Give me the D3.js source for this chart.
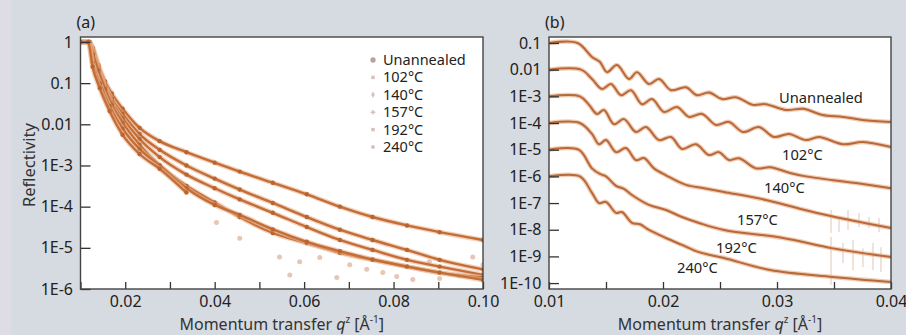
<!DOCTYPE html>
<html>
<head>
<meta charset="utf-8">
<script src="https://cdn.jsdelivr.net/npm/d3@7"></script>
<style>
body { margin: 0; background: #d6dae1; }
svg { display: block; font-family: "Noto Sans", "Open Sans", sans-serif; }
</style>
</head>
<body>
<script>
// ---- panel (a): reflectivity vs q, six samples ----
var seriesNames = ["Unannealed", "102°C", "140°C", "157°C", "192°C", "240°C"];

var aUnannealed = [[0.0100,1.0],[0.0120,1.0],[0.0128,0.71],[0.0140,0.28],[0.0155,0.11],[0.0170,0.056],[0.0194,0.024],[0.0232,0.0082],[0.0277,0.0039],[0.0337,0.0021],[0.0400,0.00117],[0.0456,7.1e-4],[0.0530,3.8e-4],[0.0606,2.0e-4],[0.0680,1.0e-4],[0.0753,5.6e-5],[0.0830,3.5e-5],[0.0903,2.4e-5],[0.1000,1.55e-5]];
var a102 = [[0.0100,1.0],[0.0120,1.0],[0.0128,0.63],[0.0140,0.25],[0.0155,0.089],[0.0170,0.042],[0.0194,0.018],[0.0232,0.0058],[0.0277,0.0024],[0.0337,0.001],[0.0400,4.8e-4],[0.0456,2.6e-4],[0.0530,1.23e-4],[0.0606,5.6e-5],[0.0680,2.75e-5],[0.0753,1.55e-5],[0.0830,8.9e-6],[0.0903,5.1e-6],[0.1000,3.0e-6]];
var a140 = [[0.0100,1.0],[0.0120,1.0],[0.0128,0.56],[0.0140,0.22],[0.0155,0.079],[0.0170,0.035],[0.0194,0.014],[0.0232,0.0044],[0.0277,0.0016],[0.0337,6.0e-4],[0.0400,2.8e-4],[0.0456,1.5e-4],[0.0530,7.1e-5],[0.0606,3.2e-5],[0.0680,1.55e-5],[0.0753,8.9e-6],[0.0830,5.1e-6],[0.0903,3.5e-6],[0.1000,2.2e-6]];
var a157 = [[0.0100,1.0],[0.0120,1.0],[0.0128,0.5],[0.0140,0.2],[0.0155,0.071],[0.0170,0.03],[0.0194,0.011],[0.0232,0.0032],[0.0277,0.001],[0.0337,3.2e-4],[0.0400,1.26e-4],[0.0456,5.6e-5],[0.0530,2.3e-5],[0.0606,1.3e-5],[0.0680,7.6e-6],[0.0753,5.1e-6],[0.0830,3.5e-6],[0.0903,2.5e-6],[0.1000,1.9e-6]];
var a192 = [[0.0100,1.0],[0.0118,1.0],[0.0127,0.32],[0.0143,0.1],[0.0165,0.028],[0.0194,0.0079],[0.0232,0.0025],[0.0277,0.001],[0.0337,2.8e-4],[0.0400,1.1e-4],[0.0456,6.3e-5],[0.0530,2.8e-5],[0.0606,1.4e-5],[0.0680,8.3e-6],[0.0753,5.2e-6],[0.0830,3.5e-6],[0.0903,2.5e-6],[0.1000,1.66e-6]];
var a240 = [[0.0100,1.0],[0.0117,1.0],[0.0127,0.25],[0.0143,0.076],[0.0165,0.021],[0.0194,0.0056],[0.0232,0.0019],[0.0277,8.3e-4],[0.0337,2.2e-4]];
var a240scatter = [[0.0404,4.1e-5],[0.0456,1.7e-5],[0.0545,6.0e-6],[0.0568,2.2e-6],[0.0590,4.6e-6],[0.0635,5.8e-6],[0.0673,1.9e-6],[0.0702,3.9e-6],[0.0740,3.0e-6],[0.0776,2.5e-6],[0.0807,2.0e-6],[0.0843,1.7e-6],[0.0880,4.6e-6],[0.0903,1.8e-6],[0.0947,2.1e-6],[0.0977,6.0e-6],[0.1000,3.9e-6]];

// ---- panel (b): offset curves showing fringes ----
var bUnannealed = [[0.0100,0.1],[0.0125,0.1],[0.01377,0.030],[0.01447,0.0195],[0.01509,0.0081],[0.01596,0.015],[0.01702,0.0045],[0.01772,0.0081],[0.01877,0.0029],[0.01965,0.0045],[0.0207,0.0017],[0.02202,0.0022],[0.02298,0.0011],[0.02404,0.0014],[0.02518,7.9e-4],[0.0264,9.3e-4],[0.0279,4.8e-4],[0.029,5.1e-4],[0.0308,3.1e-4],[0.0323,3.4e-4],[0.034,2.0e-4],[0.0358,1.7e-4],[0.0375,1.3e-4],[0.04,1.1e-4]];
var b102 = [[0.0100,0.01],[0.0128,0.01],[0.01377,0.0045],[0.01465,0.0019],[0.01544,0.0029],[0.01632,0.0011],[0.01719,0.0017],[0.01816,5.1e-4],[0.01904,7.9e-4],[0.02009,2.6e-4],[0.02123,4.0e-4],[0.02228,1.7e-4],[0.02342,2.2e-4],[0.02465,8.5e-5],[0.02579,1.1e-4],[0.02702,4.6e-5],[0.02842,7.1e-5],[0.02974,3.0e-5],[0.03105,3.9e-5],[0.03254,2.3e-5],[0.03368,3.0e-5],[0.03579,1.6e-5],[0.03754,1.95e-5],[0.04,1.26e-5]];
var b140 = [[0.0100,0.001],[0.0127,0.001],[0.01351,4.8e-4],[0.01421,2.2e-4],[0.01482,3.1e-4],[0.0157,9.1e-5],[0.01658,1.4e-4],[0.01763,4.6e-5],[0.01851,7.1e-5],[0.01965,2.3e-5],[0.0207,3.0e-5],[0.02167,1.07e-5],[0.02289,1.6e-5],[0.02404,6.3e-6],[0.02491,8.1e-6],[0.02579,4.1e-6],[0.02667,4.8e-6],[0.02816,2.0e-6],[0.02939,2.2e-6],[0.03114,1.35e-6],[0.03254,1.0e-6],[0.03491,7.2e-7],[0.03693,5.6e-7],[0.04,3.6e-7]];
var b157 = [[0.0100,1e-4],[0.0127,1e-4],[0.01377,3.9e-5],[0.01439,1.6e-5],[0.015,2.3e-5],[0.01588,8.1e-6],[0.01675,1.15e-5],[0.01763,4.1e-6],[0.01833,4.9e-6],[0.01921,2.0e-6],[0.02026,1.1e-6],[0.02202,4.8e-7],[0.0236,3.6e-7],[0.02535,2.6e-7],[0.02904,1.3e-7],[0.03342,4.3e-8],[0.0364,2.3e-8],[0.04,1.15e-8]];
var b192 = [[0.0100,1e-5],[0.0126,1e-5],[0.01377,2.0e-6],[0.01447,1.23e-6],[0.015,1.0e-6],[0.01588,4.4e-7],[0.01658,3.4e-7],[0.01728,2.0e-7],[0.01877,8.5e-8],[0.02026,5.5e-8],[0.02167,3.0e-8],[0.02316,1.8e-8],[0.02535,9.8e-9],[0.03053,4.9e-9],[0.03491,2.0e-9],[0.04,9.5e-10]];
var b240 = [[0.0100,1e-6],[0.0127,1e-6],[0.01377,2.4e-7],[0.01439,1.0e-7],[0.015,1.1e-7],[0.01588,4.3e-8],[0.0164,4.6e-8],[0.01728,1.8e-8],[0.01798,1.6e-8],[0.01877,9.8e-9],[0.02026,4.9e-9],[0.02167,2.7e-9],[0.02316,1.45e-9],[0.02535,8.7e-10],[0.02939,3.1e-10],[0.03491,1.7e-10],[0.04,1.1e-10]];
// error bars: [q, upper, lower]
var bErr157 = [[0.03474,5.5e-8,7.6e-9],[0.03544,2.75e-8,8.1e-9],[0.03623,5.5e-8,9.8e-9],[0.03719,4.3e-8,1.26e-8],[0.03807,3.0e-8,1.15e-8],[0.03895,2.75e-8,8.1e-9]];
var bErr192 = [[0.03474,5.4e-9,8.5e-11],[0.03579,3.2e-9,5.6e-10],[0.03667,4.1e-9,3.1e-10],[0.03754,2.0e-9,4.0e-10],[0.03842,3.2e-9,3.1e-10],[0.03912,2.2e-9,2.6e-10]];
// curve labels in panel (b): [q, R] of the text start
var bLabelPos = [[0.03018,5.6e-4],[0.03044,4.1e-6],[0.02886,2.4e-7],[0.02649,1.5e-8],[0.02465,1.35e-9],[0.02123,2.4e-10]];

var aYTicks = [1, 0.1, 0.01, 1e-3, 1e-4, 1e-5, 1e-6];
var aYLabels = ["1", "0.1", "0.01", "1E-3", "1E-4", "1E-5", "1E-6"];
var aXTicks = [0.01, 0.02, 0.03, 0.04, 0.05, 0.06, 0.07, 0.08, 0.09, 0.10];
var aXLabels = ["", "0.02", "", "0.04", "", "0.06", "", "0.08", "", "0.10"];
var bYTicks = [0.1, 0.01, 1e-3, 1e-4, 1e-5, 1e-6, 1e-7, 1e-8, 1e-9, 1e-10];
var bYLabels = ["0.1", "0.01", "1E-3", "1E-4", "1E-5", "1E-6", "1E-7", "1E-8", "1E-9", "1E-10"];
var bXTicks = [0.01, 0.015, 0.02, 0.025, 0.03, 0.035, 0.04];
var bXLabels = ["0.01", "", "0.02", "", "0.03", "", "0.04"];

var W = 906, H = 335;
var svg = d3.select("body").append("svg").attr("width", W).attr("height", H);
svg.append("rect").attr("width", W).attr("height", H).attr("fill", "#d6dae1");
svg.append("rect").attr("width", 11).attr("height", H).attr("fill", "#dedde3");

var plotTop = 37, plotBottom = 289;

function panel(id, left, right, xDomain, yDomain, xT, xL, yT, yL, tag) {
  var x = d3.scaleLinear().domain(xDomain).range([left, right]);
  var y = d3.scaleLog().domain(yDomain).range([plotBottom, plotTop]);

  svg.append("clipPath").attr("id", "clip" + id)
    .append("rect").attr("x", left).attr("y", plotTop).attr("width", right - left).attr("height", plotBottom - plotTop);
  svg.append("rect")
    .attr("x", left).attr("y", plotTop).attr("width", right - left).attr("height", plotBottom - plotTop)
    .attr("fill", "#ffffff");

  var g = svg.append("g").attr("clip-path", "url(#clip" + id + ")");

  var xa = svg.append("g").attr("transform", "translate(0," + plotBottom + ")")
    .call(d3.axisBottom(x).tickValues(xT).tickFormat(function(d, i) { return xL[i]; })
      .tickSizeInner(-7).tickSizeOuter(0).tickPadding(7));
  var ya = svg.append("g").attr("transform", "translate(" + left + ",0)")
    .call(d3.axisLeft(y).tickValues(yT).tickFormat(function(d, i) { return yL[i]; })
      .tickSizeInner(-10).tickSizeOuter(0).tickPadding(7.5));
  [xa, ya].forEach(function(a) {
    a.select(".domain").remove();
    a.attr("font-family", null).attr("font-size", 16);
    a.selectAll("line").attr("stroke", "#333").attr("stroke-width", 1.3);
    a.selectAll("text").attr("fill", "#222");
  });

  svg.append("rect")
    .attr("x", left).attr("y", plotTop).attr("width", right - left).attr("height", plotBottom - plotTop)
    .attr("fill", "none").attr("stroke", "#444").attr("stroke-width", 1.4);

  svg.append("text").attr("x", left - 4).attr("y", 28).attr("font-size", 16).attr("fill", "#222").text(tag);

  var t = svg.append("text").attr("x", (left + right) / 2).attr("y", 330)
    .attr("text-anchor", "middle").attr("font-size", 16).attr("fill", "#333");
  t.append("tspan").text("Momentum transfer ");
  t.append("tspan").attr("font-style", "italic").text("q");
  t.append("tspan").attr("font-size", 10).attr("dy", -7).text("z");
  t.append("tspan").attr("dy", 7).text(" [Å");
  t.append("tspan").attr("font-size", 10).attr("dy", -7).text("-1");
  t.append("tspan").attr("dy", 7).text("]");

  return { x: x, y: y, g: g };
}

// panel (a)
var pa = panel("a", 80.5, 483, [0.01, 0.1], [1e-6, 1.32], aXTicks, aXLabels, aYTicks, aYLabels, "(a)");

svg.append("text")
  .attr("transform", "translate(35,165) rotate(-90)")
  .attr("text-anchor", "middle").attr("font-size", 16.5).attr("fill", "#333")
  .text("Reflectivity");

var lineA = d3.line().x(function(d) { return pa.x(d[0]); }).y(function(d) { return pa.y(d[1]); })
  .curve(d3.curveMonotoneX);

// scattered noisy points first
pa.g.selectAll(".sc").data(a240scatter).enter().append("circle")
  .attr("cx", function(d) { return pa.x(d[0]); })
  .attr("cy", function(d) { return pa.y(d[1]); })
  .attr("r", 2.5).attr("fill", "#d8a88c").attr("opacity", 0.65);

[aUnannealed, a102, a140, a157, a192, a240].forEach(function(s) {
  pa.g.append("path").datum(s).attr("d", lineA)
    .attr("fill", "none").attr("stroke", "#e8b592").attr("stroke-width", 5).attr("opacity", 0.6);
  pa.g.append("path").datum(s).attr("d", lineA)
    .attr("fill", "none").attr("stroke", "#c46d36").attr("stroke-width", 2.4);
  pa.g.selectAll(null).data(s).enter().append("circle")
    .attr("cx", function(d) { return pa.x(d[0]); })
    .attr("cy", function(d) { return pa.y(d[1]); })
    .attr("r", 2.2).attr("fill", "#b9652f");
});

// legend of panel (a)
var legendSym = [d3.symbolCircle, d3.symbolSquare, d3.symbolDiamond, d3.symbolCross, d3.symbolSquare, d3.symbolCircle];
var lg = svg.append("g").attr("transform", "translate(373,60)");
seriesNames.forEach(function(n, i) {
  lg.append("path").attr("d", d3.symbol().type(legendSym[i]).size(i === 0 ? 22 : 12)())
    .attr("transform", "translate(0," + (i * 17.4) + ")")
    .attr("fill", i === 0 ? "#b9a29c" : "#d9bfb6");
  lg.append("text").attr("x", 10).attr("y", i * 17.4 + 5).attr("font-size", 14.5)
    .attr("fill", "#222").text(n);
});

// panel (b)
var pb = panel("b", 549, 891, [0.01, 0.04], [6e-11, 0.168], bXTicks, bXLabels, bYTicks, bYLabels, "(b)");

var lineB = d3.line().x(function(d) { return pb.x(d[0]); }).y(function(d) { return pb.y(d[1]); })
  .curve(d3.curveCatmullRom.alpha(0.5));

[bErr157, bErr192].forEach(function(e) {
  pb.g.selectAll(null).data(e).enter().append("line")
    .attr("x1", function(d) { return pb.x(d[0]); }).attr("x2", function(d) { return pb.x(d[0]); })
    .attr("y1", function(d) { return pb.y(d[1]); }).attr("y2", function(d) { return pb.y(d[2]); })
    .attr("stroke", "#dcbfae").attr("stroke-width", 0.9);
});

[bUnannealed, b102, b140, b157, b192, b240].forEach(function(s) {
  pb.g.append("path").datum(s).attr("d", lineB)
    .attr("fill", "none").attr("stroke", "#eab996").attr("stroke-width", 4.5).attr("opacity", 0.7);
  pb.g.append("path").datum(s).attr("d", lineB)
    .attr("fill", "none").attr("stroke", "#b8683a").attr("stroke-width", 2);
});

svg.selectAll(".blab").data(bLabelPos).enter().append("text")
  .attr("x", function(d) { return pb.x(d[0]); })
  .attr("y", function(d) { return pb.y(d[1]); })
  .attr("font-size", 14.7).attr("fill", "#222")
  .text(function(d, i) { return seriesNames[i]; });
</script>
</body>
</html>
